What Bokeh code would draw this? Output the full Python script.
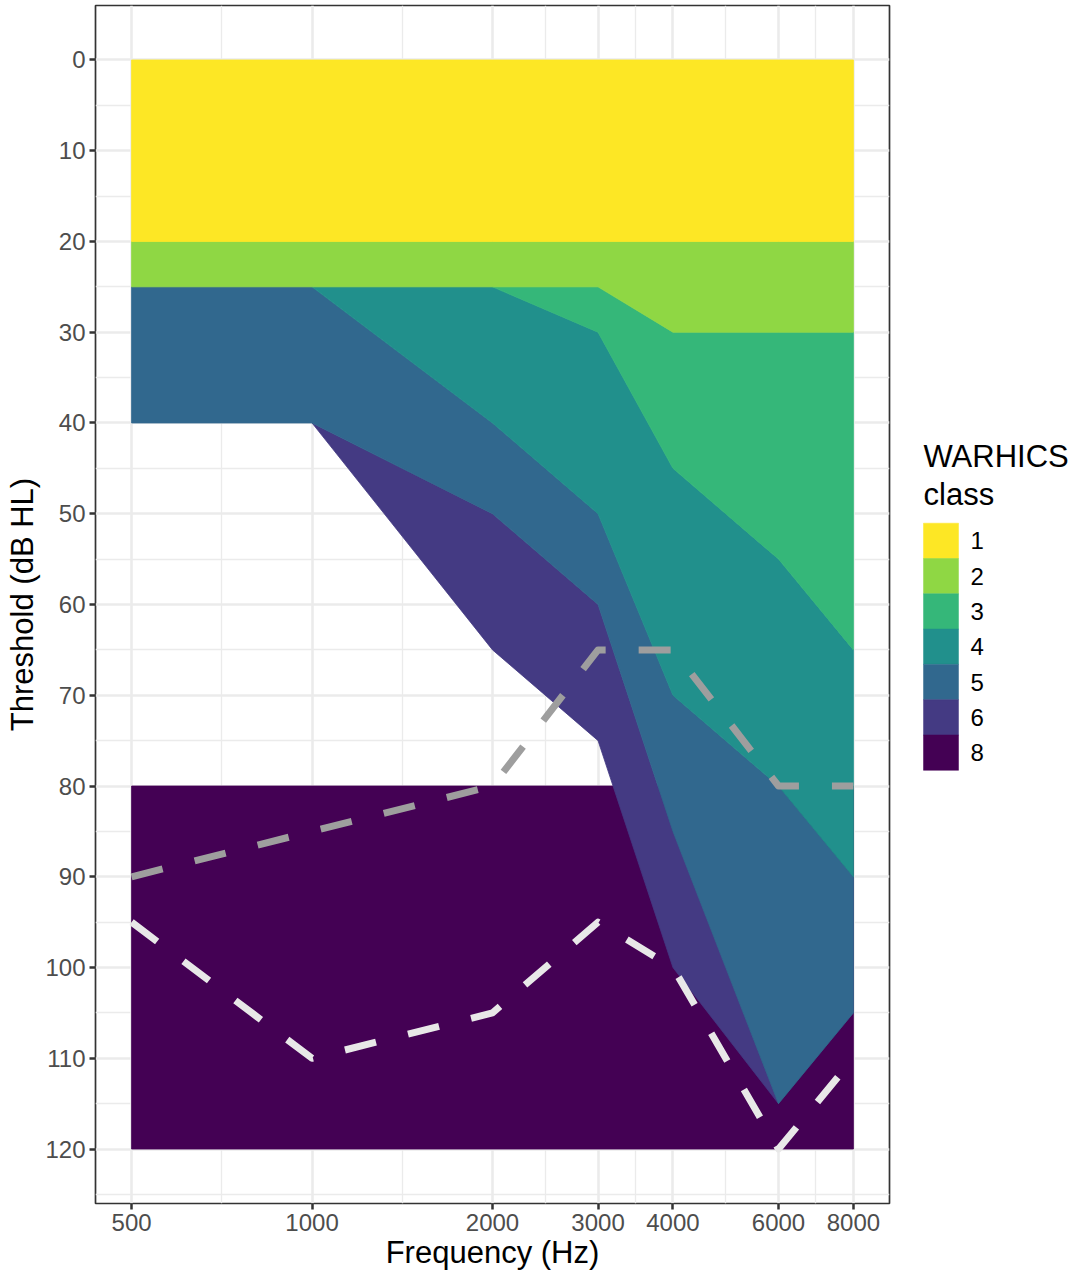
import math
from bokeh.plotting import figure
from bokeh.models import Range1d, FixedTicker, NumeralTickFormatter
from bokeh.layouts import row
from bokeh.embed import file_html
from bokeh.resources import INLINE
from bokeh.core.properties import value

FONT = "Liberation Sans"

# ---------------- data ----------------
freq_ticks = [500, 1000, 2000, 3000, 4000, 6000, 8000]
threshold_ticks = [0, 10, 20, 30, 40, 50, 60, 70, 80, 90, 100, 110, 120]
threshold_minor = [5, 15, 25, 35, 45, 55, 65, 75, 85, 95, 105, 115, 125]

class_labels = ["1", "2", "3", "4", "5", "6", "8"]
class_colors = ["#FDE725", "#8FD744", "#35B779", "#21908C", "#31688E", "#443A83", "#440154"]

# class regions: frequencies, upper edge (top threshold), lower edge (bottom threshold)
c1_freq = [500, 1000, 2000, 3000, 4000, 6000, 8000]
c1_top = [0, 0, 0, 0, 0, 0, 0]
c1_bot = [20, 20, 20, 20, 20, 20, 20]

c2_freq = [500, 1000, 2000, 3000, 4000, 6000, 8000]
c2_top = [20, 20, 20, 20, 20, 20, 20]
c2_bot = [25, 25, 25, 25, 30, 30, 30]

c3_freq = [2000, 3000, 4000, 6000, 8000]
c3_top = [25, 25, 30, 30, 30]
c3_bot = [25, 30, 45, 55, 65]

c4_freq = [1000, 2000, 3000, 4000, 6000, 8000]
c4_top = [25, 25, 30, 45, 55, 65]
c4_bot = [25, 40, 50, 70, 80, 90]

c5_freq = [500, 1000, 2000, 3000, 4000, 6000, 8000]
c5_top = [25, 25, 40, 50, 70, 80, 90]
c5_bot = [40, 40, 50, 60, 85, 115, 105]

c6_freq = [1000, 2000, 3000, 4000, 6000]
c6_top = [40, 50, 60, 85, 115]
c6_bot = [40, 65, 75, 100, 115]

c8_freq = [500, 8000]
c8_top = [80, 80]
c8_bot = [120, 120]

# dashed reference audiograms
gray_freq = [500, 1000, 2000, 3000, 4000, 6000, 8000]
gray_thr = [90, 85, 80, 65, 65, 80, 80]
white_freq = [500, 1000, 2000, 3000, 4000, 6000, 8000]
white_thr = [95, 110, 105, 95, 100, 120, 110]

# ---------------- layout constants (page pixels) ----------------
H = 1277
TOP, BOTTOM = 5, 1203          # panel top / bottom
MB_TOP, MB_BOT = TOP, H - BOTTOM
MAIN_W = 897                   # panel from x=95 to x=889
LEG_X0 = MAIN_W
LEG_W = 1076 - LEG_X0
TITLE_PX = "31px"
TICK_PX = "24px"


def poly(f, top, bot):
    return list(f) + list(f)[::-1], list(top) + list(bot)[::-1]


regions = {
    "8": (c8_freq, c8_top, c8_bot),
    "6": (c6_freq, c6_top, c6_bot),
    "5": (c5_freq, c5_top, c5_bot),
    "4": (c4_freq, c4_top, c4_bot),
    "3": (c3_freq, c3_top, c3_bot),
    "2": (c2_freq, c2_top, c2_bot),
    "1": (c1_freq, c1_top, c1_bot),
}
color_of = dict(zip(class_labels, class_colors))

# ---------------- main panel ----------------
p = figure(width=MAIN_W, height=H, x_axis_type="log",
           x_range=Range1d(500 / 2 ** 0.2, 8000 * 2 ** 0.2),
           y_range=Range1d(126, -6),
           output_backend="svg", toolbar_location=None,
           min_border_left=95, min_border_right=8,
           min_border_top=MB_TOP, min_border_bottom=MB_BOT)
p.background_fill_color = "white"
p.border_fill_color = "white"
p.outline_line_color = "#333333"
p.outline_line_width = 1.7

xs, ys, cols = [], [], []
for k, (f, t, b) in regions.items():
    px, py = poly(f, t, b)
    xs.append(px)
    ys.append(py)
    cols.append(color_of[k])
p.patches(xs=xs, ys=ys, fill_color=cols, line_color=cols, line_width=0.8)

p.line(gray_freq, gray_thr, line_color="#9E9E9E", line_width=7,
       line_dash="32 33", line_cap="butt", line_join="round")
p.line(white_freq, white_thr, line_color="#E8E8E8", line_width=7,
       line_dash="32 33", line_cap="butt", line_join="round")

freq_minor = [math.sqrt(a * b) for a, b in zip(freq_ticks[:-1], freq_ticks[1:])]
xt = FixedTicker(ticks=freq_ticks, minor_ticks=freq_minor)
yt = FixedTicker(ticks=threshold_ticks, minor_ticks=threshold_minor)
p.xaxis.ticker = xt
p.xgrid.ticker = xt
p.yaxis.ticker = yt
p.ygrid.ticker = yt
p.xaxis.formatter = NumeralTickFormatter(format="0")

for g in (p.xgrid, p.ygrid):
    g.grid_line_color = "#EBEBEB"
    g.grid_line_width = 2.6
    g.minor_grid_line_color = "#EBEBEB"
    g.minor_grid_line_width = 1.3

for ax in (p.xaxis, p.yaxis):
    ax.axis_line_color = None
    ax.major_tick_line_color = "#333333"
    ax.major_tick_line_width = 2.5
    ax.major_tick_in = 0
    ax.major_tick_out = 6
    ax.minor_tick_line_color = None
    ax.major_label_text_font = FONT
    ax.major_label_text_font_size = TICK_PX
    ax.major_label_text_color = "#4D4D4D"
    ax.axis_label_text_font = FONT
    ax.axis_label_text_font_size = TITLE_PX
    ax.axis_label_text_font_style = "normal"
    ax.axis_label_text_color = "black"

p.xaxis.major_label_standoff = 4
p.xaxis.axis_label = "Frequency (Hz)"
p.xaxis.axis_label_standoff = 1
p.yaxis.major_label_standoff = 4
p.yaxis.axis_label = "Threshold (dB HL)"
p.yaxis.axis_label_standoff = 2

# ---------------- legend strip (data units = page pixels) ----------------
lg = figure(width=LEG_W, height=H, x_range=Range1d(LEG_X0, LEG_X0 + LEG_W),
            y_range=Range1d(BOTTOM, TOP),
            output_backend="svg", toolbar_location=None,
            x_axis_location=None, y_axis_location=None,
            min_border_left=0, min_border_right=0,
            min_border_top=MB_TOP, min_border_bottom=MB_BOT)
lg.grid.visible = False
lg.outline_line_color = None
lg.background_fill_color = "white"
lg.border_fill_color = "white"

key_left, key_w, key_top, key_h = 923, 35, 522.7, 35.3
tops = [key_top + i * key_h for i in range(len(class_labels))]
lg.quad(left=[key_left] * len(tops), right=[key_left + key_w] * len(tops),
        top=tops, bottom=[t + key_h for t in tops],
        fill_color=class_colors, line_color=class_colors, line_width=0.5)
lg.text(x=[key_left + 47] * len(tops), y=[t + key_h / 2 for t in tops],
        text=class_labels, text_font=value(FONT), text_font_size=TICK_PX,
        text_color="black", text_align="left", text_baseline="middle")
lg.text(x=[key_left, key_left], y=[455.5, 493.5], text=["WARHICS", "class"],
        text_font=value(FONT), text_font_size=TITLE_PX, text_color="black",
        text_align="left", text_baseline="middle")

layout = row(p, lg)
open("out.html", "w").write(file_html(layout, INLINE))
